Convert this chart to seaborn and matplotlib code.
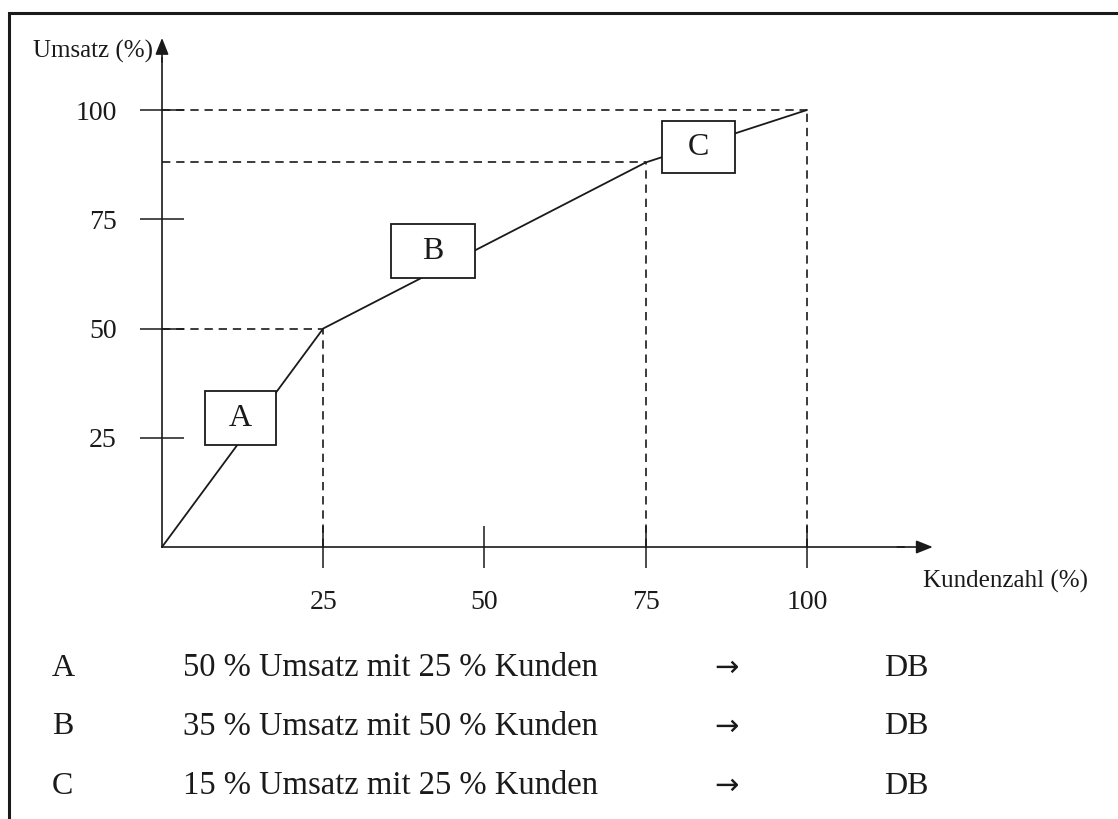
import numpy as np
import matplotlib.pyplot as plt
import matplotlib.patches as mpatches
import seaborn as sns
import pandas as pd

# Daten (ABC-Analyse)
kunden = [0, 25, 75, 100]
umsatz = [0, 50, 88, 100]
ticks = [25, 50, 75, 100]
klassen = ["A", "B", "C"]
box_x = [12.2, 42.0, 83.2]
box_y = [29.5, 67.7, 91.5]
box_w = [11.0, 12.9, 11.3]
box_h = [12.4, 12.4, 12.0]
umsatz_anteil = [50, 35, 15]
kunden_anteil = [25, 50, 25]

sns.set_style("white")
plt.rcParams['font.family'] = ['Liberation Serif', 'DejaVu Serif']

W, H = 1118, 819
fig = plt.figure(figsize=(W / 100, H / 100), dpi=100)
ax = fig.add_axes([0, 0, 1, 1])

# px per unit
sx, sy = 6.45, 4.37
x0, y0 = 162, H - 547
ax.set_xlim(-x0 / sx, (W - x0) / sx)
ax.set_ylim(-y0 / sy, (H - y0) / sy)

col = "#1a1a1a"
df = pd.DataFrame({"kunden": kunden, "umsatz": umsatz})
sns.lineplot(data=df, x="kunden", y="umsatz", ax=ax, color=col, lw=1.3, zorder=3)

# gestrichelte Hilfslinien
dash = dict(color=col, lw=1.2, ls=(0, (5, 3.5)), zorder=2)
for xk, yu in zip(kunden[1:], umsatz[1:]):
    ax.plot([0, xk], [yu, yu], **dash)
    ax.plot([xk, xk], [0, yu], **dash)

# Achsen
for s in ["top", "right"]:
    ax.spines[s].set_visible(False)
ax.spines["left"].set_position(("data", 0))
ax.spines["bottom"].set_position(("data", 0))
ax.spines["left"].set_bounds(0, 112)
ax.spines["bottom"].set_bounds(0, 115)
for s in ["left", "bottom"]:
    ax.spines[s].set_color(col)
    ax.spines[s].set_linewidth(1.2)
arr = dict(arrowstyle="-|>,head_length=0.5,head_width=0.2", color=col, lw=1.2,
           mutation_scale=20, shrinkA=0, shrinkB=0)
ax.annotate("", xy=(0, 116.5), xytext=(0, 111), arrowprops=arr)
ax.annotate("", xy=(119.5, 0), xytext=(114, 0), arrowprops=arr)

ax.set_xticks(ticks)
ax.set_yticks(ticks)
ax.set_xticklabels([str(t) for t in ticks])
ax.set_yticklabels([str(t) for t in ticks])
ax.tick_params(axis="y", left=True, direction="inout", length=31, width=1.1,
               pad=17, labelsize=20, colors=col)
ax.tick_params(axis="x", bottom=True, direction="inout", length=30, width=1.1,
               pad=16, labelsize=20, colors=col)
ax.set_xlabel("")
ax.set_ylabel("")

ax.text(-1.4, 113.3, "Umsatz (%)", ha="right", va="center", fontsize=18, color=col)
ax.text(118, -7.8, "Kundenzahl (%)", ha="left", va="center", fontsize=18, color=col)

# Klassen-Kästen
for k, bx, by, bw, bh in zip(klassen, box_x, box_y, box_w, box_h):
    ax.add_patch(mpatches.Rectangle((bx - bw / 2, by - bh / 2), bw, bh,
                                    fc="white", ec=col, lw=1.3, zorder=4))
    ax.text(bx, by, k, ha="center", va="center", fontsize=23, color=col, zorder=5)

# Tabelle unten
rows_y = [668, 727, 786]
for k, u, kd, ry in zip(klassen, umsatz_anteil, kunden_anteil, rows_y):
    fy = 1 - ry / H
    fig.text(52 / W, fy, k, ha="left", va="center", fontsize=23, color=col)
    fig.text(183 / W, fy, f"{u} % Umsatz mit {kd} % Kunden", ha="left",
             va="center", fontsize=23.5, color=col)
    fig.text(727 / W, fy, "\u2192", ha="center", va="center", fontsize=21,
             color=col, family=["DejaVu Sans"])
    fig.text(884 / W, fy, "DB", ha="left", va="center", fontsize=23, color=col)

# Rahmen
fig.patches.append(mpatches.Rectangle((9 / W, -0.1), 1.2, 1 - 13 / H + 0.1,
                                      transform=fig.transFigure, fill=False,
                                      ec=col, lw=2.2))

fig.savefig("out.png", dpi=100)
